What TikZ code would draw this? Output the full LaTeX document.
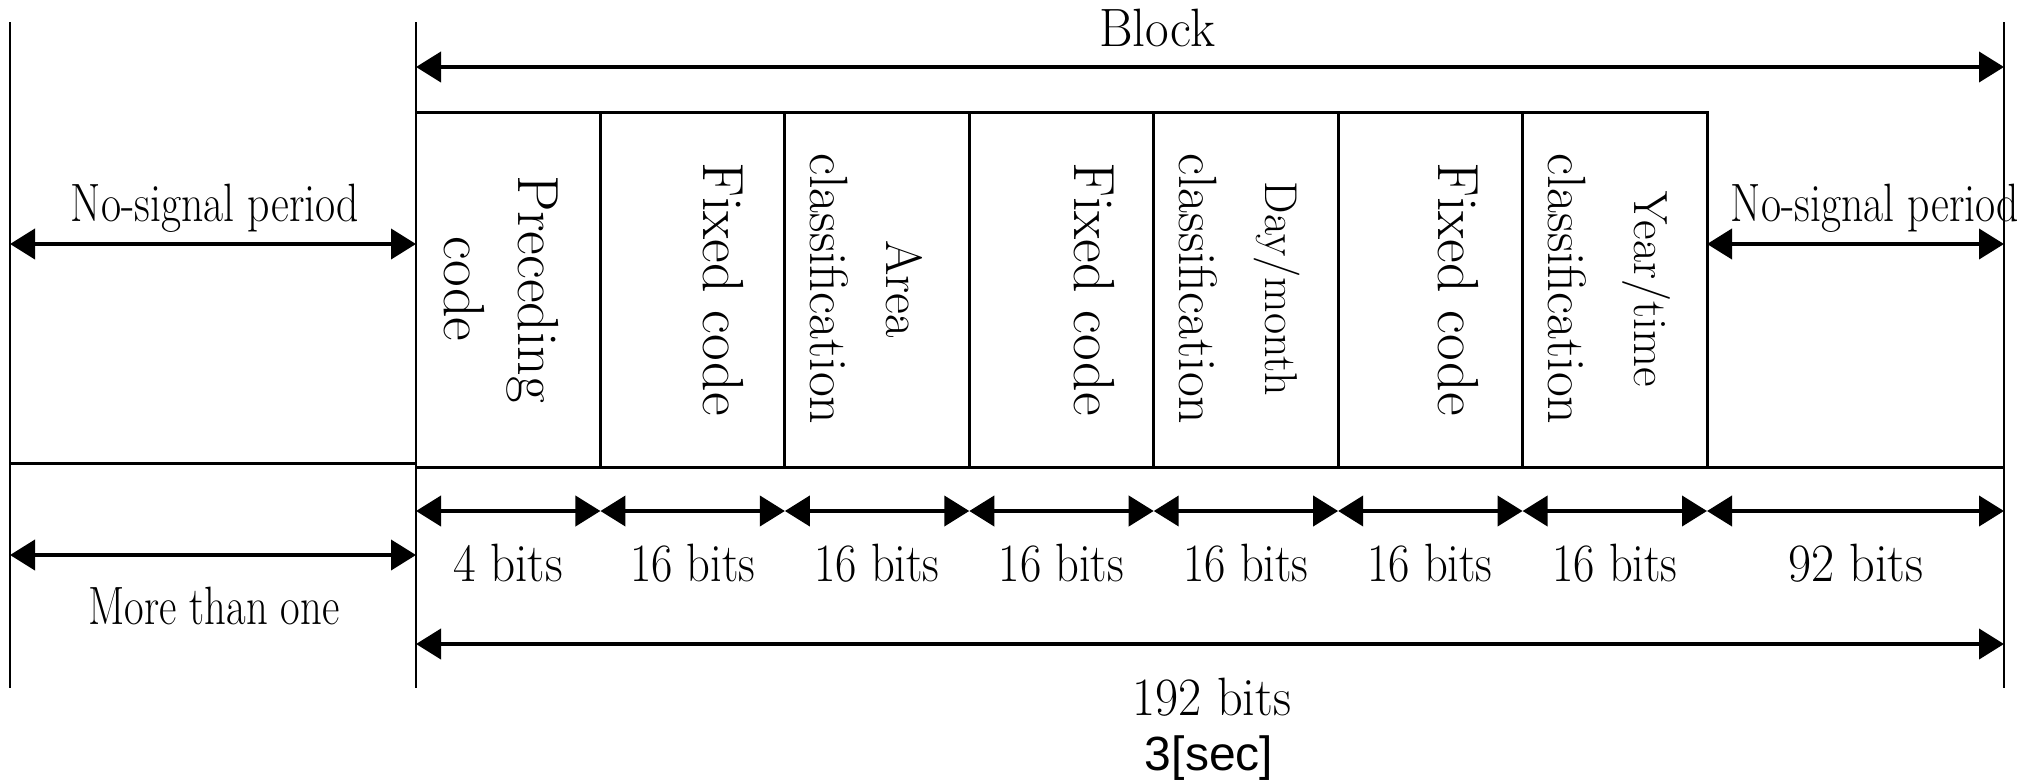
\documentclass[tikz,border=0pt]{standalone}
\usepackage{fontspec}
\newfontfamily\arialf{Liberation Sans}
\usetikzlibrary{arrows.meta}
\newcommand\hlab[2]{\scalebox{#1}[1]{#2}}
\newcommand\fs[1]{\fontsize{#1}{#1}\selectfont}
\begin{document}
\begin{tikzpicture}[x=1pt,y=-1pt,
  vline/.style={line width=2.5pt},
  boxline/.style={line width=3pt},
  dim/.style={line width=4pt,{Triangle[length=25pt,width=30pt]}-{Triangle[length=25pt,width=30pt]}},
  lab/.style={inner sep=0pt,font=\fs{54}},
  vsmall/.style={inner sep=0pt,rotate=-90},
  vbig/.style={inner sep=0pt,rotate=-90,font=\fs{58}}]
\useasboundingbox (0,0) rectangle (2031,782);
% vertical guide lines
\coordinate (LT) at (10,22);   \coordinate (LB) at (10,688);
\coordinate (MT) at (416,22);  \coordinate (MB) at (416,688);
\coordinate (RT) at (2004,22); \coordinate (RB) at (2004,688);
\draw[vline] (LT) -- (LB);
\draw[vline] (MT) -- (MB);
\draw[vline] (RT) -- (RB);
% cell boundaries
\foreach \i in {0,...,7} {
  \coordinate (t\i) at ({416+184.43*\i},112);
  \coordinate (b\i) at ({416+184.43*\i},467);
  \coordinate (s\i) at ({416+184.43*\i},511);
}
\coordinate (s8) at (2004,511);
\coordinate (bR) at (2004,467);
\draw[boxline] (t0) -- (t7) -- (b7);
\draw[boxline] (b0) -- (bR);
\foreach \i in {1,...,6} \draw[boxline] (t\i) -- (b\i);
\coordinate (h0) at (10,463); \coordinate (h1) at (416,463);
\draw[boxline] (h0) -- (h1);
% dimension arrows
\coordinate (k0) at (416,67);  \coordinate (k1) at (2004,67);
\draw[dim] (k0) -- (k1);
\coordinate (n0) at (10,244);  \coordinate (n1) at (416,244);
\coordinate (n2) at (1707,244); \coordinate (n3) at (2004,244);
\draw[dim] (n0) -- (n1);
\draw[dim] (n2) -- (n3);
\foreach \i [evaluate=\i as \j using int(\i+1)] in {0,...,7}
  \draw[dim] (s\i) -- (s\j);
\coordinate (m0) at (10,555);  \coordinate (m1) at (416,555);
\draw[dim] (m0) -- (m1);
\coordinate (a0) at (416,644); \coordinate (a1) at (2004,644);
\draw[dim] (a0) -- (a1);
% horizontal labels
\node[lab] (lblock) at (1157,28) {\hlab{0.95}{Block}};
\node[lab] (lns1) at (215,208) {\hlab{0.81}{No-signal period}};
\node[lab] (lns2) at (1875,208) {\hlab{0.81}{No-signal period}};
\node[lab] (lmore) at (214,606) {\hlab{0.79}{More than one}};
\node[lab] (l0) at (508,563) {\hlab{0.91}{4 bits}};
\node[lab] (l1) at (692.6,563) {\hlab{0.86}{16 bits}};
\node[lab] (l2) at (877,563) {\hlab{0.86}{16 bits}};
\node[lab] (l3) at (1061.5,563) {\hlab{0.86}{16 bits}};
\node[lab] (l4) at (1246,563) {\hlab{0.86}{16 bits}};
\node[lab] (l5) at (1430,563) {\hlab{0.86}{16 bits}};
\node[lab] (l6) at (1615,563) {\hlab{0.86}{16 bits}};
\node[lab] (l7) at (1856,563) {\hlab{0.93}{92 bits}};
\node[lab] (ltot) at (1212,697) {\hlab{0.93}{192 bits}};
\node[inner sep=0pt,font=\arialf\fs{48}] (lsec) at (1209,758) {3[sec]};
% rotated cell labels
\node[vbig] (p1) at (533,289) {Preceding};
\node[vbig] (p2) at (464,289) {code};
\node[vbig] (f1) at (723,289) {Fixed code};
\node[vsmall,font=\fs{51}] (ar1) at (904,289) {Area};
\node[vsmall,font=\fs{54}] (ar2) at (829,289) {classification};
\node[vbig] (f2) at (1094,289) {Fixed code};
\node[vsmall,font=\fs{46}] (dm1) at (1277,289) {Day/month};
\node[vsmall,font=\fs{54}] (dm2) at (1198,289) {classification};
\node[vbig] (f3) at (1458,289) {Fixed code};
\node[vsmall,font=\fs{48}] (yt1) at (1646,289) {Year/time};
\node[vsmall,font=\fs{54}] (yt2) at (1567,289) {classification};
\end{tikzpicture}
\end{document}
